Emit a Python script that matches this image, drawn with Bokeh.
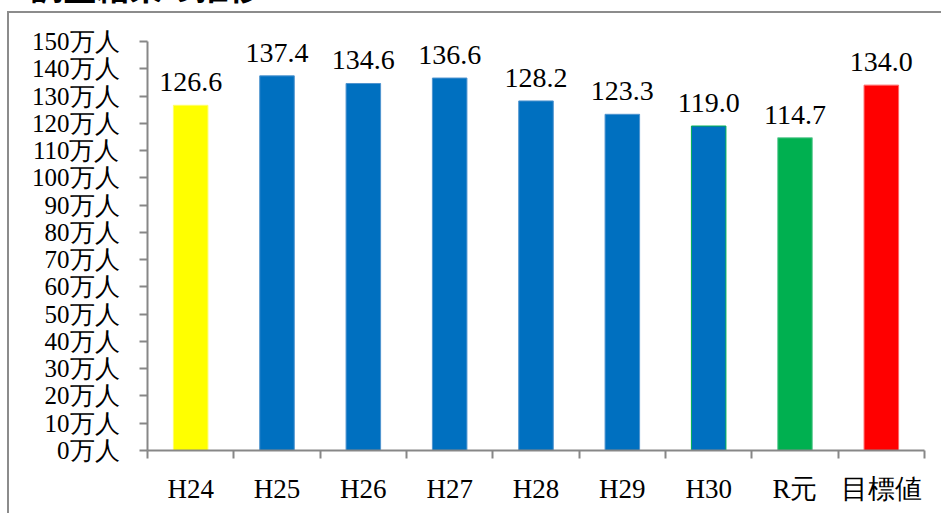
from bokeh.plotting import figure
from bokeh.models import (ColumnDataSource, FixedTicker, LabelSet, InlineStyleSheet, Div)
from bokeh.layouts import column
from bokeh.embed import file_html
from bokeh.resources import INLINE

categories = ["H24", "H25", "H26", "H27", "H28", "H29", "H30", "R元", "目標値"]
values = [126.6, 137.4, 134.6, 136.6, 128.2, 123.3, 119.0, 114.7, 134.0]
colors = ["#FFFF00", "#0070C0", "#0070C0", "#0070C0", "#0070C0", "#0070C0", "#0070C0", "#00B050", "#FF0000"]
edge_colors = ["#FFFF66", "#4F94CF", "#4F94CF", "#4F94CF", "#4F94CF", "#4F94CF", "#00B050", "#66CC99", "#FF6666"]
y_ticks = list(range(0, 151, 10))
y_labels = {t: f"{t}万人" for t in y_ticks}
title_text = "1.調査結果の推移"

SERIF = "Liberation Serif"

xs = [i + 0.5 for i in range(len(categories))]
src = ColumnDataSource(dict(x=xs, top=values, color=colors, edge=edge_colors,
                            label=[f"{v:.1f}" for v in values]))

box_css = InlineStyleSheet(css="""
:host::before {
  content: '';
  position: absolute;
  left: 7px;
  top: 11px;
  width: 934px;
  height: 502px;
  border-left: 2px solid #8C8C8C;
  border-top: 2px solid #8C8C8C;
  pointer-events: none;
  z-index: 5;
}
""")

p = figure(width=943, height=515, output_backend="svg", toolbar_location=None,
           x_range=(0, len(categories)), y_range=(0, 150),
           min_border_left=147, min_border_right=19, min_border_top=41, min_border_bottom=65,
           stylesheets=[box_css])
p.outline_line_color = None
p.grid.grid_line_color = None
p.background_fill_color = "white"
p.border_fill_alpha = 0

p.vbar(x="x", top="top", width=0.4, bottom=0, fill_color="color", line_color="edge", line_width=1, source=src)

labels = LabelSet(x="x", y="top", text="label", source=src, text_align="center",
                  text_baseline="alphabetic", y_offset=14, text_font_size="28px",
                  text_font=SERIF, text_color="black")
p.add_layout(labels)

# x axis
p.xaxis.ticker = FixedTicker(ticks=xs, minor_ticks=list(range(len(categories) + 1)))
p.xaxis.major_label_overrides = {x: c for x, c in zip(xs, categories)}
p.xaxis.major_tick_out = 0
p.xaxis.major_tick_in = 0
p.xaxis.minor_tick_out = 8
p.xaxis.minor_tick_in = 0
p.xaxis.axis_line_color = "#878787"
p.xaxis.axis_line_width = 2
p.xaxis.minor_tick_line_color = "#878787"
p.xaxis.minor_tick_line_width = 2
p.xaxis.major_label_text_font = SERIF
p.xaxis.major_label_text_font_size = "27px"
p.xaxis.major_label_text_color = "black"
p.xaxis.major_label_standoff = 15

# y axis
p.yaxis.ticker = FixedTicker(ticks=y_ticks, minor_ticks=[])
p.yaxis.major_label_overrides = y_labels
p.yaxis.major_tick_out = 8
p.yaxis.major_tick_in = 0
p.yaxis.axis_line_color = "#878787"
p.yaxis.axis_line_width = 2
p.yaxis.major_tick_line_color = "#878787"
p.yaxis.major_tick_line_width = 2
p.yaxis.major_label_text_font = SERIF
p.yaxis.major_label_text_font_size = "25px"
p.yaxis.major_label_text_color = "black"
p.yaxis.major_label_standoff = 20

title = Div(text=f"<div style=\"position:relative; top:-32px; left:0px; white-space:nowrap; "
                 f"font-family:'Noto Sans CJK JP'; font-weight:bold; font-size:33px; "
                 f"line-height:36px; color:black;\">{title_text}</div>",
            width=300, height=0, margin=0,
            styles={"overflow": "visible", "z-index": "10", "position": "relative"})

layout = column(title, p, spacing=0)

open("out.html", "w").write(file_html(layout, INLINE))
